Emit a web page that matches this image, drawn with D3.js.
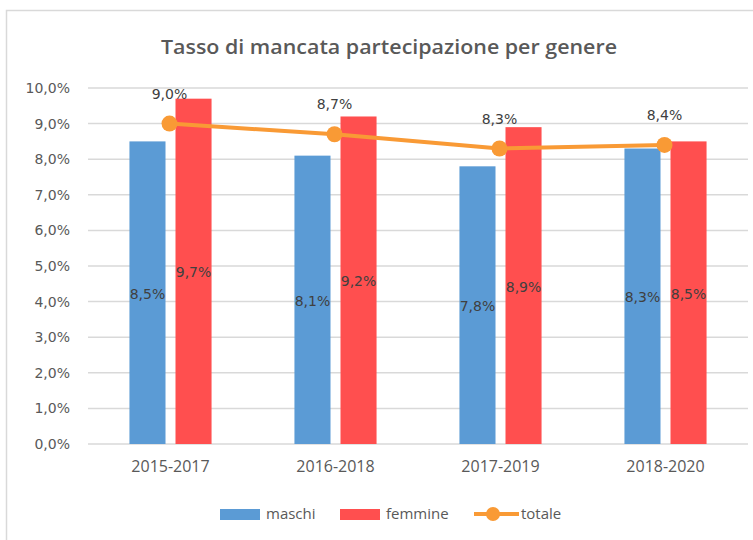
<!DOCTYPE html>
<html>
<head>
<meta charset="utf-8">
<script src="https://cdn.jsdelivr.net/npm/d3@7"></script>
<style>
	body { margin: 0; background: #fff; }
	svg { display: block; }
</style>
</head>
<body>
<div id="chart"></div>
<script>
const periods = ['2015-2017', '2016-2018', '2017-2019', '2018-2020'];
const maschi = [8.5, 8.1, 7.8, 8.3];
const femmine = [9.7, 9.2, 8.9, 8.5];
const totale = [9.0, 8.7, 8.3, 8.4];
const yTicks = [0, 1, 2, 3, 4, 5, 6, 7, 8, 9, 10];

const width = 753, height = 540;
const margin = { top: 88, right: 5, bottom: 96, left: 88 };
const plotW = width - margin.left - margin.right;
const plotH = height - margin.top - margin.bottom;

const colors = { maschi: '#5b9bd5', femmine: '#ff4f4f', totale: '#f99a35' };

const it = d3.formatLocale({ decimal: ',', thousands: '.', grouping: [3], currency: ['€', ''] });
const pct = (v) => it.format('.1f')(v) + '%';

const svg = d3.select('#chart').append('svg').attr('width', width).attr('height', height);

// chart frame
svg.append('rect').attr('x', 6.5).attr('y', 10.5).attr('width', 760).attr('height', 560)
	.attr('fill', 'none').attr('stroke', '#d9d9d9').attr('stroke-width', 1.5);

svg.append('text').attr('x', 389).attr('y', 54).attr('text-anchor', 'middle')
	.style('font-family', 'Open Sans').style('font-size', '19px').style('font-weight', 600)
	.attr('fill', '#595959').attr('textLength', 456).attr('lengthAdjust', 'spacingAndGlyphs')
	.text('Tasso di mancata partecipazione per genere');

const g = svg.append('g').attr('transform', `translate(${margin.left},${margin.top})`);

const x = d3.scaleBand().domain(periods).range([0, plotW]);
const xs = d3.scaleBand().domain(['maschi', 'femmine']).range([0, x.bandwidth()]).paddingInner(0.217).paddingOuter(0.9);
const y = d3.scaleLinear().domain([0, 10]).range([plotH, 0]);

// gridlines
g.append('g').selectAll('line').data(yTicks).join('line')
	.attr('x1', 0).attr('x2', plotW).attr('y1', (d) => y(d)).attr('y2', (d) => y(d))
	.attr('stroke', '#d9d9d9').attr('stroke-width', 1.5);

// y labels
const yAxis = d3.axisLeft(y).tickValues(yTicks).tickSize(0).tickPadding(18).tickFormat(pct);
g.append('g').call(yAxis).call((a) => a.select('.domain').remove())
	.selectAll('text').style('font-family', 'DejaVu Sans').style('font-size', '14px').attr('fill', '#595959');

// x labels
const xAxis = d3.axisBottom(x).tickSize(0).tickPadding(17);
g.append('g').attr('transform', `translate(0,${plotH})`).call(xAxis)
	.call((a) => a.select('.domain').remove())
	.selectAll('text').style('font-family', 'Open Sans').style('font-size', '16px').attr('fill', '#595959');

const series = [
	{ key: 'maschi', values: maschi },
	{ key: 'femmine', values: femmine },
];

series.forEach((s) => {
	const bars = g.append('g');
	bars.selectAll('rect').data(s.values).join('rect')
		.attr('x', (d, i) => x(periods[i]) + xs(s.key))
		.attr('width', xs.bandwidth())
		.attr('y', (d) => y(d))
		.attr('height', (d) => plotH - y(d))
		.attr('fill', colors[s.key]);
	bars.selectAll('text').data(s.values).join('text')
		.attr('x', (d, i) => x(periods[i]) + xs(s.key) + xs.bandwidth() / 2)
		.attr('y', (d) => (y(d) + plotH) / 2 + 6)
		.attr('text-anchor', 'middle')
		.style('font-family', 'DejaVu Sans').style('font-size', '14px').attr('fill', '#404040')
		.text(pct);
});

// totale line
const cx = (i) => x(periods[i]) + x.bandwidth() / 2 - 1;
const line = d3.line().x((d, i) => cx(i)).y((d) => y(d));
g.append('path').datum(totale).attr('d', line).attr('fill', 'none')
	.attr('stroke', colors.totale).attr('stroke-width', 4).attr('stroke-linejoin', 'round');
g.append('g').selectAll('circle').data(totale).join('circle')
	.attr('cx', (d, i) => cx(i)).attr('cy', (d) => y(d)).attr('r', 8).attr('fill', colors.totale);
g.append('g').selectAll('text').data(totale).join('text')
	.attr('x', (d, i) => cx(i)).attr('y', (d) => y(d) - 25)
	.attr('text-anchor', 'middle')
	.style('font-family', 'DejaVu Sans').style('font-size', '14px').attr('fill', '#404040')
	.text(pct);

// legend
const leg = svg.append('g').attr('transform', 'translate(220,514)');
const legItems = [
	{ key: 'maschi', x: 0 },
	{ key: 'femmine', x: 120 },
	{ key: 'totale', x: 254 },
];
legItems.forEach((l) => {
	const li = leg.append('g').attr('transform', `translate(${l.x},0)`);
	if (l.key === 'totale') {
		li.append('line').attr('x1', 0).attr('x2', 45).attr('y1', 0).attr('y2', 0)
			.attr('stroke', colors.totale).attr('stroke-width', 4);
		li.append('circle').attr('cx', 19).attr('cy', 0).attr('r', 7).attr('fill', colors.totale);
	} else {
		li.append('rect').attr('x', 0).attr('y', -5).attr('width', 40).attr('height', 11).attr('fill', colors[l.key]);
	}
	li.append('text').attr('x', l.key === 'totale' ? 47 : 46).attr('y', 5)
		.style('font-family', 'Open Sans').style('font-size', '15px').attr('fill', '#595959')
		.text(l.key);
});
</script>
</body>
</html>
